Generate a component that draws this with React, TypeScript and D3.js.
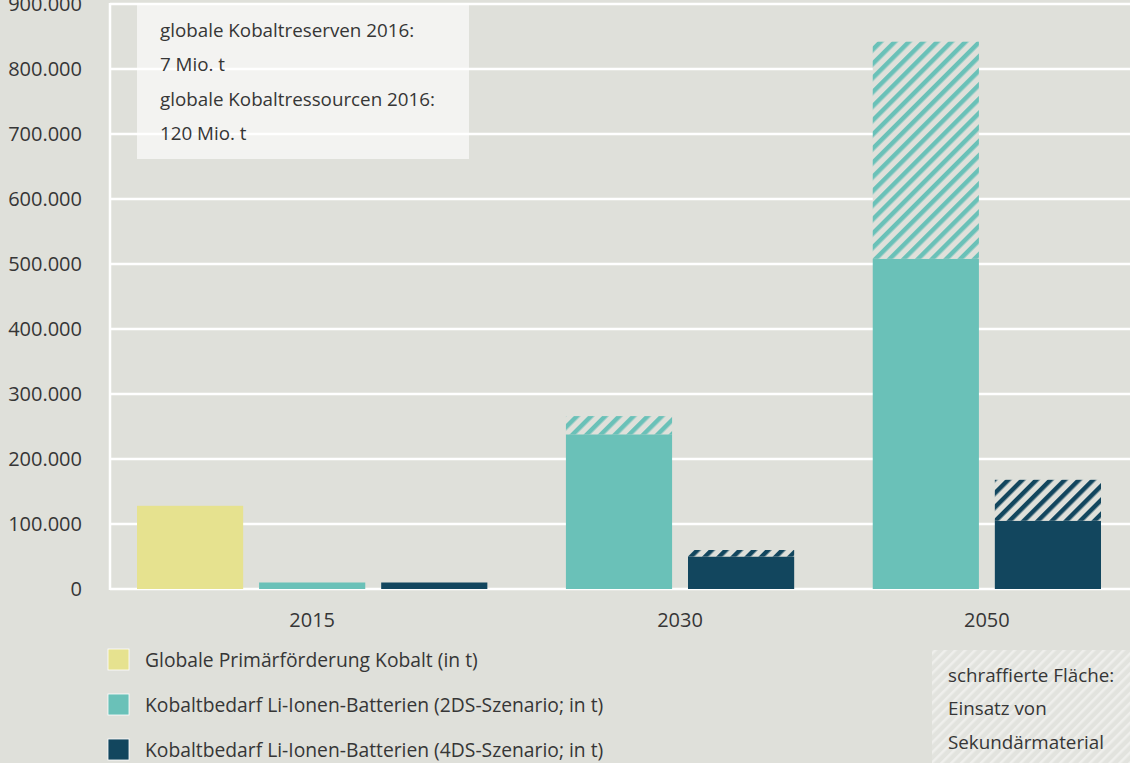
import React from "react";
import * as d3 from "d3";

const categories = ["2015", "2030", "2050"];
const primaryProduction = [128000, null, null];
const demand2DS = [10000, 238000, 508000];
const demand2DSSecondary = [0, 28000, 334000];
const demand4DS = [10000, 50000, 105000];
const demand4DSSecondary = [0, 10000, 63000];
const yTicks = [0, 100000, 200000, 300000, 400000, 500000, 600000, 700000, 800000, 900000];
const legendLabels = [
  "Globale Primärförderung Kobalt (in t)",
  "Kobaltbedarf Li-Ionen-Batterien (2DS-Szenario; in t)",
  "Kobaltbedarf Li-Ionen-Batterien (4DS-Szenario; in t)",
];
const noteLines = [
  "globale Kobaltreserven 2016:",
  "7 Mio. t",
  "globale Kobaltressourcen 2016:",
  "120 Mio. t",
];
const hatchNoteLines = ["schraffierte Fläche:", "Einsatz von", "Sekundärmaterial"];

const W = 1130;
const H = 763;
const BG = "#dfe0da";
const TEXT = "#363636";
const COLORS = ["#e6e28f", "#6ac1b8", "#12465e"];
const FONT = "'Open Sans', Roboto, sans-serif";

export default function App() {
  React.useEffect(() => {
    document.body.style.margin = "0";
  }, []);

  const y = d3.scaleLinear().domain([0, 900000]).range([589, 4]);
  const axisX = 110;

  const innerGap = 0.15;
  const groupGap = 0.74;
  type Bar = { cat: number; series: number; base: number; extra: number; u0: number };
  const bars: Bar[] = [];
  const groupCenters: { cat: number; uc: number }[] = [];
  let u = 0;
  categories.forEach((_, i) => {
    const series: { s: number; base: number; extra: number }[] = [];
    if (primaryProduction[i] != null) series.push({ s: 0, base: primaryProduction[i] as number, extra: 0 });
    series.push({ s: 1, base: demand2DS[i], extra: demand2DSSecondary[i] });
    series.push({ s: 2, base: demand4DS[i], extra: demand4DSSecondary[i] });
    const start = u;
    series.forEach((sr, j) => {
      if (j > 0) u += innerGap;
      bars.push({ cat: i, series: sr.s, base: sr.base, extra: sr.extra, u0: u });
      u += 1;
    });
    groupCenters.push({ cat: i, uc: (start + u) / 2 });
    if (i < categories.length - 1) u += groupGap;
  });
  const x = d3.scaleLinear().domain([0, u]).range([137, 1101]);
  const bw = x(1) - x(0);

  return (
    <svg width={W} height={H} style={{ position: "absolute", left: 0, top: 0, display: "block" }} fontFamily={FONT}>
      <defs>
        <pattern id="hatch1" width="10" height="10" patternUnits="userSpaceOnUse" patternTransform="rotate(45)">
          <rect width="10" height="10" fill={BG} />
          <rect width="4.5" height="10" fill={COLORS[1]} />
        </pattern>
        <pattern id="hatch2" width="10" height="10" patternUnits="userSpaceOnUse" patternTransform="rotate(45)">
          <rect width="10" height="10" fill={BG} />
          <rect width="4.5" height="10" fill={COLORS[2]} />
        </pattern>
        <pattern id="hatchLight" width="7" height="7" patternUnits="userSpaceOnUse" patternTransform="rotate(45)">
          <rect width="7" height="7" fill="#e2e3de" />
          <rect width="2.5" height="7" fill="#efefec" />
        </pattern>
      </defs>
      <rect width={W} height={H} fill={BG} />

      <rect x={137} y={4} width={332} height={155} fill="#f3f3f1" />

      {yTicks.map((t) => (
        <line key={t} x1={axisX} x2={W} y1={y(t)} y2={y(t)} stroke="#ffffff" strokeWidth={2.5} />
      ))}
      <line x1={axisX} x2={axisX} y1={y(900000) - 1} y2={y(0) + 1} stroke="#ffffff" strokeWidth={2.5} />

      {noteLines.map((t, i) => (
        <text key={t} x={160} y={30 + i * 34.5} dy="0.35em" fontSize={18.8} fill={TEXT}>
          {t}
        </text>
      ))}

      {yTicks.map((t) => (
        <text key={t} x={82} y={y(t)} dy="0.35em" textAnchor="end" fontSize={20} fill={TEXT}>
          {d3.format(",")(t).replace(/,/g, ".")}
        </text>
      ))}

      {bars.map((b, i) => {
        const x0 = x(b.u0);
        return (
          <g key={i}>
            <rect x={x0} y={y(b.base)} width={bw} height={y(0) - y(b.base)} fill={COLORS[b.series]} />
            {b.extra > 0 && (
              <rect
                x={x0}
                y={y(b.base + b.extra)}
                width={bw}
                height={y(b.base) - y(b.base + b.extra)}
                fill={`url(#hatch${b.series})`}
              />
            )}
          </g>
        );
      })}

      {groupCenters.map((g) => (
        <text key={g.cat} x={x(g.uc)} y={620} dy="0.35em" textAnchor="middle" fontSize={20} fill={TEXT}>
          {categories[g.cat]}
        </text>
      ))}

      {legendLabels.map((l, i) => (
        <g key={l} transform={`translate(108, ${649 + i * 45})`}>
          <rect x={0} y={0} width={21} height={21} fill={COLORS[i]} stroke="#ffffff" strokeWidth={0.8} />
          <text x={37} y={11} dy="0.35em" fontSize={19.3} fill={TEXT}>
            {l}
          </text>
        </g>
      ))}

      <rect x={932} y={650} width={W - 932} height={H - 650} fill="url(#hatchLight)" />
      {hatchNoteLines.map((t, i) => (
        <text key={t} x={948} y={675 + i * 33.5} dy="0.35em" fontSize={18.8} fill={TEXT}>
          {t}
        </text>
      ))}
    </svg>
  );
}
